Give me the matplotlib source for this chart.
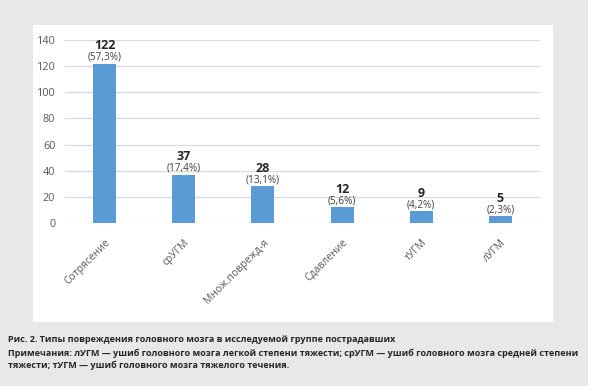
import matplotlib.pyplot as plt
from matplotlib.patches import Rectangle

# data
categories = ['Сотрясение', 'срУГМ', 'Множ.поврежд-я', 'Сдавление', 'тУГМ', 'лУГМ']
counts = [122, 37, 28, 12, 9, 5]
percents = ['(57,3%)', '(17,4%)', '(13,1%)', '(5,6%)', '(4,2%)', '(2,3%)']
yticks = [0, 20, 40, 60, 80, 100, 120, 140]

caption_title = 'Рис. 2. Типы повреждения головного мозга в исследуемой группе пострадавших'
caption_note = ('Примечания: лУГМ — ушиб головного мозга легкой степени тяжести; срУГМ — ушиб головного мозга средней степени\n'
                'тяжести; тУГМ — ушиб головного мозга тяжелого течения.')

plt.rcParams['font.family'] = ['Open Sans', 'DejaVu Sans']

W, H = 601, 392
fig = plt.figure(figsize=(W / 100, H / 100), dpi=100, facecolor='white')

# grey page background and white chart panel
fig.patches.append(Rectangle((0, 1 - 386 / H), 588 / W, 386 / H, transform=fig.transFigure,
                             facecolor='#e8e8e8', edgecolor='none', zorder=-2))
fig.patches.append(Rectangle((33 / W, 1 - 322 / H), (553 - 33) / W, (322 - 25) / H,
                             transform=fig.transFigure, facecolor='white', edgecolor='none', zorder=-1))

ax = fig.add_axes([65 / W, 169 / H, (540 - 65) / W, (223 - 40) / H])
ax.set_facecolor('none')

x = range(len(categories))
ax.bar(x, counts, width=0.29, color='#5b9bd5', zorder=3)

for xi, c, p in zip(x, counts, percents):
    ax.text(xi, c + 0.6, p, ha='center', va='bottom', fontsize=7.2, color='#404040', zorder=4)
    ax.text(xi, c + 8.8, str(c), ha='center', va='bottom', fontsize=9, fontweight='bold',
            color='#262626', zorder=4)

ax.set_ylim(0, 140)
ax.set_xlim(-0.5, len(categories) - 0.5)
ax.set_yticks(yticks)
ax.yaxis.grid(True, color='#dcdcdc', linewidth=1)
ax.set_axisbelow(True)
for s in ax.spines.values():
    s.set_visible(False)
ax.tick_params(axis='both', length=0, labelsize=7.8, labelcolor='#595959')
ax.tick_params(axis='y', pad=7)
ax.set_xticks(list(x))
ax.set_xticklabels(categories, rotation=45, ha='right', rotation_mode='anchor')
ax.tick_params(axis='x', pad=10, labelsize=7.5)

fig.text(8 / W, 1 - 340 / H, caption_title, fontsize=6.5, fontweight='bold', color='#262626',
         va='center', ha='left')
fig.text(8 / W, 1 - 359.5 / H, caption_note, fontsize=6.5, fontweight='bold', color='#262626',
         va='center', ha='left', linespacing=1.45)

fig.savefig('out.png', dpi=100)
